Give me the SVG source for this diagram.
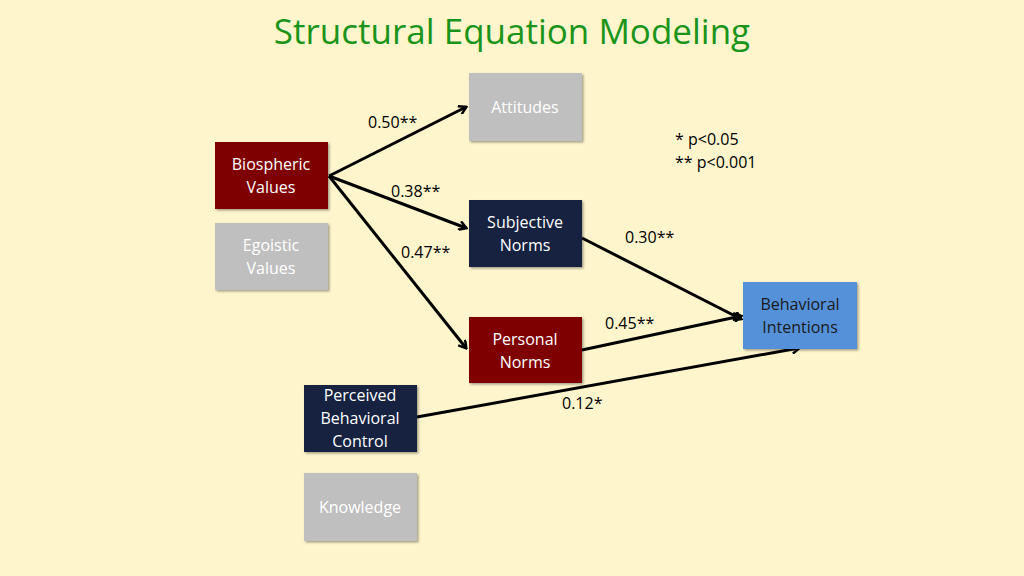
<svg xmlns="http://www.w3.org/2000/svg" width="1024" height="576" viewBox="0 0 1024 576">
<defs>
<marker id="ah" markerWidth="10" markerHeight="10" refX="8" refY="5" orient="auto" markerUnits="userSpaceOnUse" viewBox="0 0 10 10">
<path d="M1,0.5 L8.5,5 L1,9.5" fill="none" stroke="#000" stroke-width="2.5" stroke-linejoin="miter"/>
</marker>
<filter id="sh" x="-10%" y="-10%" width="130%" height="130%"><feDropShadow dx="1.5" dy="1.5" stdDeviation="1.2" flood-opacity="0.35"/></filter>
</defs>
<style>
text{font-family:"Open Sans","Liberation Sans",sans-serif;font-size:16px}
.t{fill:#fff;text-anchor:middle}
.l{fill:#000}
.gray{fill:#BFBFBF}.red{fill:#7F0000}.navy{fill:#14243F}.blue{fill:#5591D8}
rect{filter:url(#sh)}
#connectors line{stroke:#000;stroke-width:3;marker-end:url(#ah)}
</style>
<rect width="1024" height="576" fill="#FEF5CC" style="filter:none"/>
<text x="512" y="44" text-anchor="middle" style="font-size:35px;fill:#1A941A">Structural Equation Modeling</text>
<g id="connectors">
<line x1="329" y1="176" x2="466" y2="107"/>
<line x1="329" y1="176" x2="466" y2="228"/>
<line x1="329" y1="176" x2="466" y2="348"/>
<line x1="582" y1="238" x2="741" y2="319"/>
<line x1="582" y1="350" x2="741" y2="316"/>
<line x1="417" y1="417" x2="799" y2="348"/>
</g>
<g id="attitudes"><rect x="469" y="73" width="113" height="68" class="gray"/><text x="525" y="113" class="t">Attitudes</text></g>
<g id="biospheric"><rect x="215" y="142" width="113" height="67" class="red"/><text x="271" y="170" class="t">Biospheric</text><text x="271" y="193" class="t">Values</text></g>
<g id="egoistic"><rect x="215" y="223" width="113" height="67" class="gray"/><text x="271" y="251" class="t">Egoistic</text><text x="271" y="274" class="t">Values</text></g>
<g id="subjective"><rect x="469" y="200" width="113" height="67" class="navy"/><text x="525" y="228" class="t">Subjective</text><text x="525" y="251" class="t">Norms</text></g>
<g id="personal"><rect x="469" y="317" width="113" height="66" class="red"/><text x="525" y="345" class="t">Personal</text><text x="525" y="368" class="t">Norms</text></g>
<g id="intentions"><rect x="743" y="282" width="114" height="67" class="blue"/><text x="800" y="310" class="t" style="fill:#1a1a1a">Behavioral</text><text x="800" y="333" class="t" style="fill:#1a1a1a">Intentions</text></g>
<g id="pbc"><rect x="304" y="385" width="113" height="67" class="navy"/><text x="360" y="401" class="t">Perceived</text><text x="360" y="424" class="t">Behavioral</text><text x="360" y="447" class="t">Control</text></g>
<g id="knowledge"><rect x="304" y="473" width="113" height="68" class="gray"/><text x="360" y="513" class="t">Knowledge</text></g>
<g id="labels">
<text x="368" y="128" class="l">0.50**</text>
<text x="391" y="197" class="l">0.38**</text>
<text x="401" y="258" class="l">0.47**</text>
<text x="625" y="243" class="l">0.30**</text>
<text x="605" y="329" class="l">0.45**</text>
<text x="562" y="409" class="l">0.12*</text>
<text x="675" y="145" class="l">* p&lt;0.05</text>
<text x="675" y="168" class="l">** p&lt;0.001</text>
</g>
</svg>
